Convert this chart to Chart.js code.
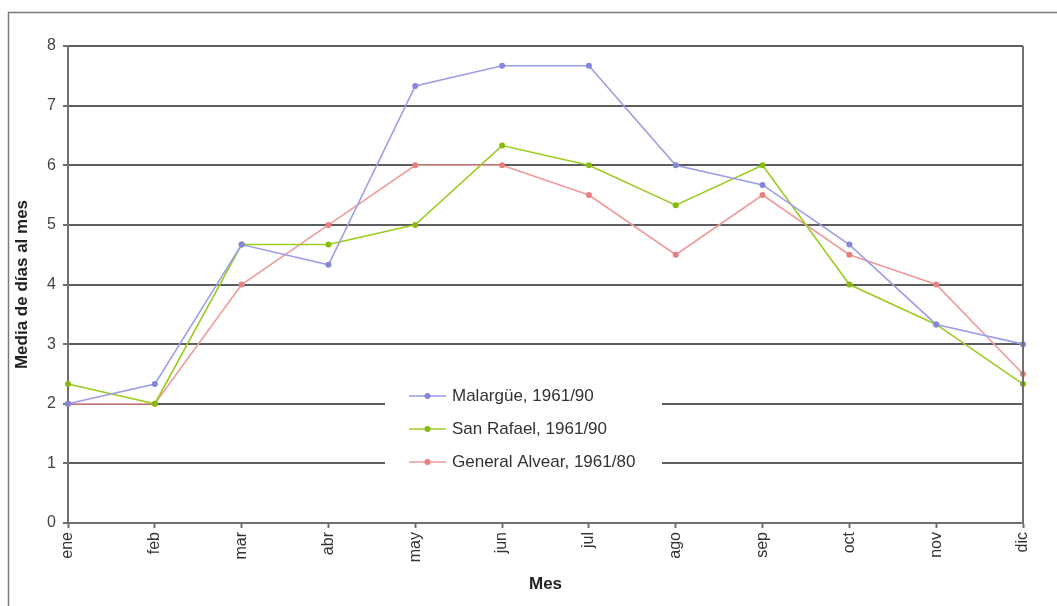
<!DOCTYPE html>
<html>
<head>
<meta charset="utf-8">
<script src="https://cdn.jsdelivr.net/npm/chart.js@4/dist/chart.umd.min.js"></script>
<style>
  html, body { margin: 0; padding: 0; background: #fff; }
  #wrap { width: 1057px; height: 606px; position: relative; }
</style>
</head>
<body>
<div id="wrap"><canvas id="c" width="1057" height="606"></canvas></div>
<script>
// Media de días al mes, por estación
const months = ['ene','feb','mar','abr','may','jun','jul','ago','sep','oct','nov','dic'];
const malargue = [2, 2.33, 4.67, 4.33, 7.33, 7.67, 7.67, 6, 5.67, 4.67, 3.33, 3];
const sanRafael = [2.33, 2, 4.67, 4.67, 5, 6.33, 6, 5.33, 6, 4, 3.33, 2.33];
const generalAlvear = [2, 2, 4, 5, 6, 6, 5.5, 4.5, 5.5, 4.5, 4, 2.5];
const seriesNames = ['Malargüe, 1961/90', 'San Rafael, 1961/90', 'General Alvear, 1961/80'];
const yTicks = [0, 1, 2, 3, 4, 5, 6, 7, 8];

const FONT = '"Liberation Sans", Arial, sans-serif';

// Outer frame lines, right plot border and the in-plot legend box
const framePlugin = {
  id: 'frame',
  beforeDraw(chart) {
    const ctx = chart.ctx;
    ctx.save();
    ctx.fillStyle = '#fff';
    ctx.fillRect(0, 0, chart.width, chart.height);
    ctx.strokeStyle = '#7a7a7a';
    ctx.lineWidth = 1.5;
    ctx.beginPath();
    ctx.moveTo(8.5, chart.height);
    ctx.lineTo(8.5, 12.5);
    ctx.lineTo(chart.width, 12.5);
    ctx.stroke();
    ctx.restore();
  },
  afterDraw(chart) {
    const ctx = chart.ctx;
    const a = chart.chartArea;
    ctx.save();
    // right border of the plot
    ctx.strokeStyle = '#707070';
    ctx.lineWidth = 2;
    ctx.beginPath();
    ctx.moveTo(a.right, a.top);
    ctx.lineTo(a.right, a.bottom);
    ctx.stroke();

    // legend
    const bx = 385, by = 376, bw = 277, bh = 104;
    ctx.fillStyle = '#fff';
    ctx.fillRect(bx, by, bw, bh);
    const rowY = [396, 429, 462];
    chart.data.datasets.forEach((ds, i) => {
      const y = rowY[i];
      ctx.strokeStyle = ds.borderColor;
      ctx.lineWidth = 1.5;
      ctx.beginPath();
      ctx.moveTo(409, y);
      ctx.lineTo(446, y);
      ctx.stroke();
      ctx.fillStyle = ds.pointBackgroundColor;
      ctx.beginPath();
      ctx.arc(427.5, y, 3, 0, Math.PI * 2);
      ctx.fill();
      ctx.fillStyle = '#333';
      ctx.font = '17px ' + FONT;
      ctx.textBaseline = 'middle';
      ctx.textAlign = 'left';
      ctx.fillText(ds.label, 452, y);
    });
    ctx.restore();
  }
};

const palette = [
  { line: '#9d9de8', point: '#8585dc' },
  { line: '#9ccc22', point: '#88bb11' },
  { line: '#f09a9a', point: '#e88080' }
];
const values = [malargue, sanRafael, generalAlvear];

new Chart(document.getElementById('c'), {
  type: 'line',
  data: {
    labels: months,
    datasets: values.map((v, i) => ({
      label: seriesNames[i],
      data: v,
      borderColor: palette[i].line,
      backgroundColor: palette[i].point,
      pointBackgroundColor: palette[i].point,
      pointBorderColor: palette[i].point,
      pointRadius: 3,
      pointBorderWidth: 0,
      borderWidth: 1.6,
      tension: 0,
      fill: false
    }))
  },
  options: {
    responsive: false,
    animation: false,
    devicePixelRatio: 1,
    layout: { padding: { left: 8, top: 46, right: 34, bottom: 0 } },
    plugins: {
      legend: { display: false },
      tooltip: { enabled: false }
    },
    scales: {
      x: {
        offset: false,
        afterFit(s) { s.height = 83; },
        grid: {
          drawOnChartArea: false,
          drawTicks: true,
          tickLength: 5,
          tickWidth: 2,
          tickColor: '#707070'
        },
        border: { color: '#707070', width: 2 },
        ticks: {
          minRotation: 90,
          maxRotation: 90,
          padding: 4,
          color: '#333',
          font: { family: FONT, size: 16 }
        },
        title: {
          display: true,
          text: 'Mes',
          color: '#222',
          font: { family: FONT, size: 17, weight: 'bold' },
          padding: { top: 0, bottom: 11 }
        }
      },
      y: {
        min: 0,
        max: 8,
        afterFit(s) { s.width = 60; },
        afterBuildTicks(s) { s.ticks = yTicks.map(v => ({ value: v })); },
        grid: {
          color: '#5e5e5e',
          lineWidth: 2,
          drawTicks: true,
          tickLength: 5,
          tickColor: '#707070'
        },
        border: { color: '#707070', width: 2 },
        ticks: {
          padding: 7,
          color: '#444',
          font: { family: FONT, size: 16 }
        },
        title: {
          display: true,
          text: 'Media de días al mes',
          color: '#222',
          font: { family: FONT, size: 17, weight: 'bold' },
          padding: { top: 4, bottom: 0 }
        }
      }
    }
  },
  plugins: [framePlugin]
});
</script>
</body>
</html>
